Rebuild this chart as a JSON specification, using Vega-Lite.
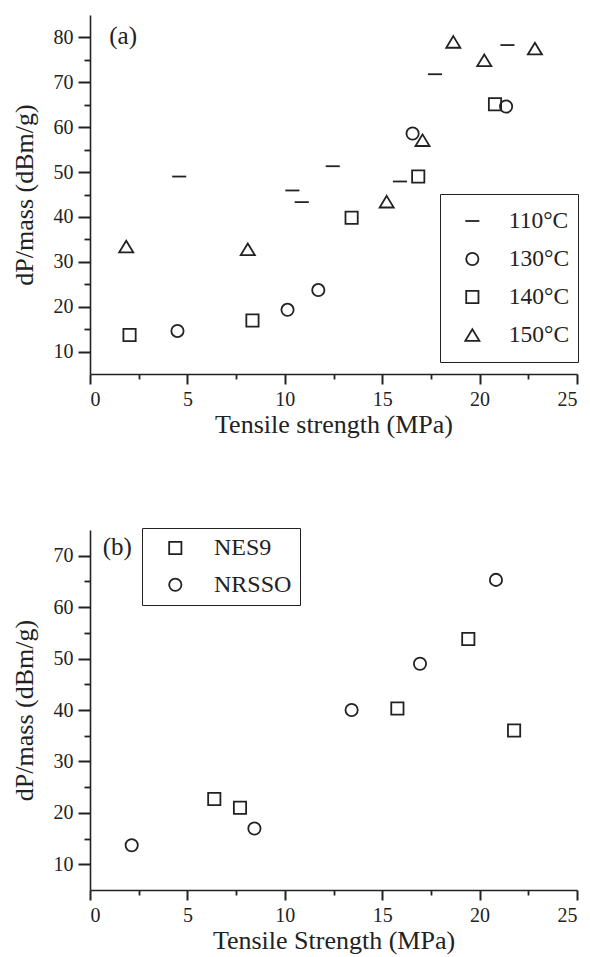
{
  "$schema": "https://vega.github.io/schema/vega-lite/v6.json",
  "padding": {"top": 15, "left": 11, "right": 5, "bottom": 2},
  "background": "white",
  "spacing": 90,
  "resolve": {"scale": {"shape": "independent"}, "legend": {"shape": "independent"}},
  "config": {
    "view": {"stroke": null},
    "font": "Liberation Serif",
    "axis": {
      "grid": false,
      "domainColor": "#222",
      "domainWidth": 1.6,
      "tickColor": "#222",
      "tickWidth": 1.8,
      "labelColor": "#222",
      "titleColor": "#222",
      "labelFont": "Liberation Serif",
      "titleFont": "Liberation Serif",
      "labelFontSize": 20,
      "titleFontSize": 26,
      "titleFontWeight": "normal"
    },
    "legend": {
      "labelFont": "Liberation Serif",
      "labelColor": "#222",
      "strokeColor": "#222",
      "symbolStrokeColor": "#222",
      "symbolStrokeWidth": 1.8,
      "symbolFillColor": "transparent",
      "symbolSize": 150
    }
  },
  "vconcat": [
    {
      "width": 487,
      "height": 359,
      "data": {"values": [
        {"x": 4.58, "y": 49.0, "series": "110°C"},
        {"x": 10.39, "y": 45.9, "series": "110°C"},
        {"x": 10.87, "y": 43.3, "series": "110°C"},
        {"x": 12.46, "y": 51.3, "series": "110°C"},
        {"x": 15.91, "y": 47.9, "series": "110°C"},
        {"x": 17.71, "y": 71.8, "series": "110°C"},
        {"x": 21.43, "y": 78.3, "series": "110°C"},
        {"x": 4.49, "y": 14.6, "series": "130°C"},
        {"x": 10.14, "y": 19.3, "series": "130°C"},
        {"x": 11.72, "y": 23.7, "series": "130°C"},
        {"x": 16.56, "y": 58.6, "series": "130°C"},
        {"x": 21.36, "y": 64.6, "series": "130°C"},
        {"x": 2.03, "y": 13.7, "series": "140°C"},
        {"x": 8.34, "y": 16.9, "series": "140°C"},
        {"x": 13.43, "y": 39.8, "series": "140°C"},
        {"x": 16.85, "y": 49.0, "series": "140°C"},
        {"x": 20.79, "y": 65.1, "series": "140°C"},
        {"x": 1.86, "y": 33.4, "series": "150°C"},
        {"x": 8.10, "y": 32.8, "series": "150°C"},
        {"x": 15.23, "y": 43.4, "series": "150°C"},
        {"x": 17.07, "y": 57.1, "series": "150°C"},
        {"x": 18.65, "y": 79.0, "series": "150°C"},
        {"x": 20.24, "y": 74.9, "series": "150°C"},
        {"x": 22.84, "y": 77.5, "series": "150°C"}
      ]},
      "resolve": {"axis": {"x": "independent", "y": "independent"}},
      "layer": [
        {
          "mark": {"type": "point", "filled": false, "strokeWidth": 1.8, "color": "#222", "opacity": 1, "size": 150},
          "encoding": {
            "x": {
              "field": "x", "type": "quantitative",
              "scale": {"domain": [0, 25], "nice": false, "zero": false},
              "axis": {
                "orient": "bottom",
                "title": "Tensile strength (MPa)",
                "values": [0, 5, 10, 15, 20, 25],
                "ticks": false,
                "labelPadding": 15,
                "titlePadding": 2
              }
            },
            "y": {
              "field": "y", "type": "quantitative",
              "scale": {"domain": [5, 85], "nice": false, "zero": false},
              "axis": {
                "orient": "left",
                "title": "dP/mass (dBm/g)",
                "values": [10, 20, 30, 40, 50, 60, 70, 80],
                "ticks": false,
                "labelPadding": 17,
                "titlePadding": 16
              }
            },
            "shape": {
              "field": "series", "type": "nominal",
              "scale": {"domain": ["110°C", "130°C", "140°C", "150°C"], "range": ["M-1.15,0H1.15", "circle", "square", "M0,-0.95L1.15,0.95L-1.15,0.95Z"]},
              "legend": {
                "title": null,
                "orient": "none",
                "legendX": 350,
                "legendY": 179,
                "padding": 8,
                "clipHeight": 38,
                "rowPadding": 0,
                "symbolOffset": 12.6,
                "labelOffset": 24.7,
                "labelFontSize": 23.5,
                "strokeColor": "#222"
              }
            }
          }
        },
        {
          "data": {"values": [{"label": "(a)"}]},
          "mark": {"type": "text", "font": "Liberation Serif", "fontSize": 25, "color": "#222", "align": "center", "baseline": "middle"},
          "encoding": {
            "text": {"field": "label"},
            "x": {"datum": 1.7, "axis": null},
            "y": {"datum": 80.3, "axis": null}
          }
        },
        {
          "mark": {"type": "point", "opacity": 0},
          "encoding": {
            "x": {
              "field": "x", "type": "quantitative",
              "axis": {"orient": "bottom", "title": null, "values": [2.5, 7.5, 12.5, 17.5, 22.5], "labels": false, "domain": false, "tickSize": 5}
            },
            "y": {
              "field": "y", "type": "quantitative",
              "axis": {"orient": "left", "title": null, "values": [15, 25, 35, 45, 55, 65, 75], "labels": false, "domain": false, "tickSize": 6}
            }
          }
        },
        {
          "mark": {"type": "point", "opacity": 0},
          "encoding": {
            "x": {
              "field": "x", "type": "quantitative",
              "axis": {"orient": "bottom", "title": null, "values": [0, 5, 10, 15, 20, 25], "labels": false, "domain": false, "tickSize": 10, "tickWidth": 2}
            },
            "y": {
              "field": "y", "type": "quantitative",
              "axis": {"orient": "left", "title": null, "values": [10, 20, 30, 40, 50, 60, 70, 80], "labels": false, "domain": false, "tickSize": 12, "tickWidth": 2}
            }
          }
        }
      ]
    },
    {
      "width": 487,
      "height": 360,
      "data": {"values": [
        {"x": 6.38, "y": 22.7, "series": "NES9"},
        {"x": 7.70, "y": 21.0, "series": "NES9"},
        {"x": 15.78, "y": 40.3, "series": "NES9"},
        {"x": 19.42, "y": 53.8, "series": "NES9"},
        {"x": 21.77, "y": 36.0, "series": "NES9"},
        {"x": 2.14, "y": 13.7, "series": "NRSSO"},
        {"x": 8.44, "y": 16.95, "series": "NRSSO"},
        {"x": 13.43, "y": 40.0, "series": "NRSSO"},
        {"x": 16.94, "y": 49.0, "series": "NRSSO"},
        {"x": 20.84, "y": 65.3, "series": "NRSSO"}
      ]},
      "resolve": {"axis": {"x": "independent", "y": "independent"}},
      "layer": [
        {
          "mark": {"type": "point", "filled": false, "strokeWidth": 1.8, "color": "#222", "opacity": 1, "size": 150},
          "encoding": {
            "x": {
              "field": "x", "type": "quantitative",
              "scale": {"domain": [0, 25], "nice": false, "zero": false},
              "axis": {
                "orient": "bottom",
                "title": "Tensile Strength (MPa)",
                "values": [0, 5, 10, 15, 20, 25],
                "ticks": false,
                "labelPadding": 15,
                "titlePadding": 2
              }
            },
            "y": {
              "field": "y", "type": "quantitative",
              "scale": {"domain": [5, 75], "nice": false, "zero": false},
              "axis": {
                "orient": "left",
                "title": "dP/mass (dBm/g)",
                "values": [10, 20, 30, 40, 50, 60, 70],
                "ticks": false,
                "labelPadding": 17,
                "titlePadding": 16
              }
            },
            "shape": {
              "field": "series", "type": "nominal",
              "scale": {"domain": ["NES9", "NRSSO"], "range": ["square", "circle"]},
              "legend": {
                "title": null,
                "orient": "none",
                "legendX": 52,
                "legendY": -2,
                "padding": 8,
                "rowPadding": 12.7,
                "symbolOffset": 13.3,
                "labelOffset": 26.7,
                "labelFontSize": 24,
                "strokeColor": "#222"
              }
            }
          }
        },
        {
          "data": {"values": [{"label": "(b)"}]},
          "mark": {"type": "text", "font": "Liberation Serif", "fontSize": 25, "color": "#222", "align": "center", "baseline": "middle"},
          "encoding": {
            "text": {"field": "label"},
            "x": {"datum": 1.4, "axis": null},
            "y": {"datum": 71.6, "axis": null}
          }
        },
        {
          "mark": {"type": "point", "opacity": 0},
          "encoding": {
            "x": {
              "field": "x", "type": "quantitative",
              "axis": {"orient": "bottom", "title": null, "values": [2.5, 7.5, 12.5, 17.5, 22.5], "labels": false, "domain": false, "tickSize": 5}
            },
            "y": {
              "field": "y", "type": "quantitative",
              "axis": {"orient": "left", "title": null, "values": [15, 25, 35, 45, 55, 65], "labels": false, "domain": false, "tickSize": 6}
            }
          }
        },
        {
          "mark": {"type": "point", "opacity": 0},
          "encoding": {
            "x": {
              "field": "x", "type": "quantitative",
              "axis": {"orient": "bottom", "title": null, "values": [0, 5, 10, 15, 20, 25], "labels": false, "domain": false, "tickSize": 10, "tickWidth": 2}
            },
            "y": {
              "field": "y", "type": "quantitative",
              "axis": {"orient": "left", "title": null, "values": [10, 20, 30, 40, 50, 60, 70], "labels": false, "domain": false, "tickSize": 12, "tickWidth": 2}
            }
          }
        }
      ]
    }
  ]
}
